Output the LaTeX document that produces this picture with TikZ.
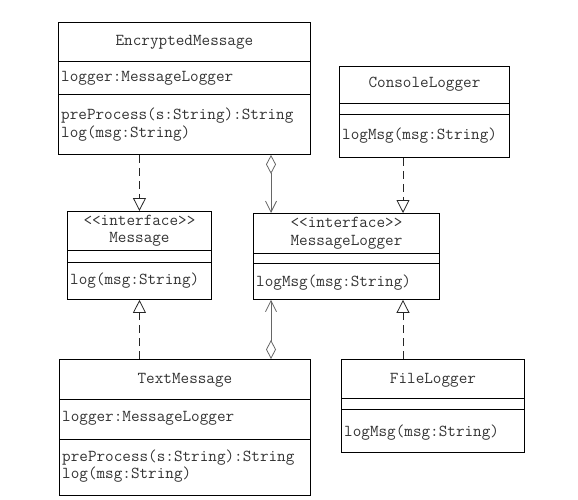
\documentclass[tikz,border=0pt]{standalone}
\usepackage{fontspec}
\usetikzlibrary{arrows.meta, positioning}

\begin{document}
\begin{tikzpicture}[x=1pt, y=-1pt,
    classbox/.style={draw, line width=0.9pt, anchor=north west, inner sep=0pt},
    classname/.style={text=black!80, inner sep=0pt, align=center,
        font=\ttfamily\fontsize{16.7}{17.5}\selectfont},
    member/.style={classname, anchor=west, align=left},
    sep/.style={line width=0.9pt},
    realize/.style={draw=black!85, line width=0.8pt, dash pattern=on 8pt off 5pt,
        -{Triangle[open, length=13pt, width=13pt]}},
    aggregate/.style={draw=black!60, line width=0.8pt,
        {Diamond[open, length=19pt, width=10pt]}-{Straight Barb[length=11pt, width=11pt]}}
]
    \useasboundingbox (0,0) rectangle (578,500);

    % EncryptedMessage
    \node[classbox, minimum width=252pt, minimum height=132pt] (enc) at (58,22) {};
    \draw[sep] (enc.west |- 0,61) -- (enc.east |- 0,61);
    \draw[sep] (enc.west |- 0,94) -- (enc.east |- 0,94);
    \node[classname] (encName) at (enc.north |- 0,42) {EncryptedMessage};
    \node[member] (encAttr) at (61,78) {logger:MessageLogger};
    \node[member] (encOps) at (61,124.5) {preProcess(s:String):String\\log(msg:String)};

    % Message
    \node[classbox, minimum width=144pt, minimum height=88pt] (msg) at (67,211) {};
    \draw[sep] (msg.west |- 0,250) -- (msg.east |- 0,250);
    \draw[sep] (msg.west |- 0,262) -- (msg.east |- 0,262);
    \node[classname] (msgName) at (msg.north |- 0,231) {<<interface>>\\Message};
    \node[member] (msgOps) at (70,281) {log(msg:String)};

    % MessageLogger
    \node[classbox, minimum width=186pt, minimum height=86pt] (mlog) at (253,213) {};
    \draw[sep] (mlog.west |- 0,253) -- (mlog.east |- 0,253);
    \draw[sep] (mlog.west |- 0,263) -- (mlog.east |- 0,263);
    \node[classname] (mlogName) at (mlog.north |- 0,233.5) {<<interface>>\\MessageLogger};
    \node[member] (mlogOps) at (256,283) {logMsg(msg:String)};

    % ConsoleLogger
    \node[classbox, minimum width=170pt, minimum height=91pt] (con) at (339,66) {};
    \draw[sep] (con.west |- 0,103) -- (con.east |- 0,103);
    \draw[sep] (con.west |- 0,114) -- (con.east |- 0,114);
    \node[classname] (conName) at (con.north |- 0,84) {ConsoleLogger};
    \node[member] (conOps) at (342,136) {logMsg(msg:String)};

    % TextMessage
    \node[classbox, minimum width=251pt, minimum height=136pt] (txt) at (59,359) {};
    \draw[sep] (txt.west |- 0,399) -- (txt.east |- 0,399);
    \draw[sep] (txt.west |- 0,439) -- (txt.east |- 0,439);
    \node[classname] (txtName) at (txt.north |- 0,380) {TextMessage};
    \node[member] (txtAttr) at (62,418) {logger:MessageLogger};
    \node[member] (txtOps) at (62,466) {preProcess(s:String):String\\log(msg:String)};

    % FileLogger
    \node[classbox, minimum width=183pt, minimum height=93pt] (file) at (341,359) {};
    \draw[sep] (file.west |- 0,398) -- (file.east |- 0,398);
    \draw[sep] (file.west |- 0,409) -- (file.east |- 0,409);
    \node[classname] (fileName) at (file.north |- 0,380) {FileLogger};
    \node[member] (fileOps) at (344,433) {logMsg(msg:String)};

    % connectors
    \coordinate (aggX) at (271,0);
    \coordinate (implX) at (403,0);
    \draw[realize] (enc.south -| msg.north) -- (msg.north);
    \draw[realize] (txt.north -| msg.south) -- (msg.south);
    \draw[aggregate] (enc.south -| aggX) -- (mlog.north -| aggX);
    \draw[aggregate] (txt.north -| aggX) -- (mlog.south -| aggX);
    \draw[realize] (con.south -| implX) -- (mlog.north -| implX);
    \draw[realize] (file.north -| implX) -- (mlog.south -| implX);
\end{tikzpicture}
\end{document}
